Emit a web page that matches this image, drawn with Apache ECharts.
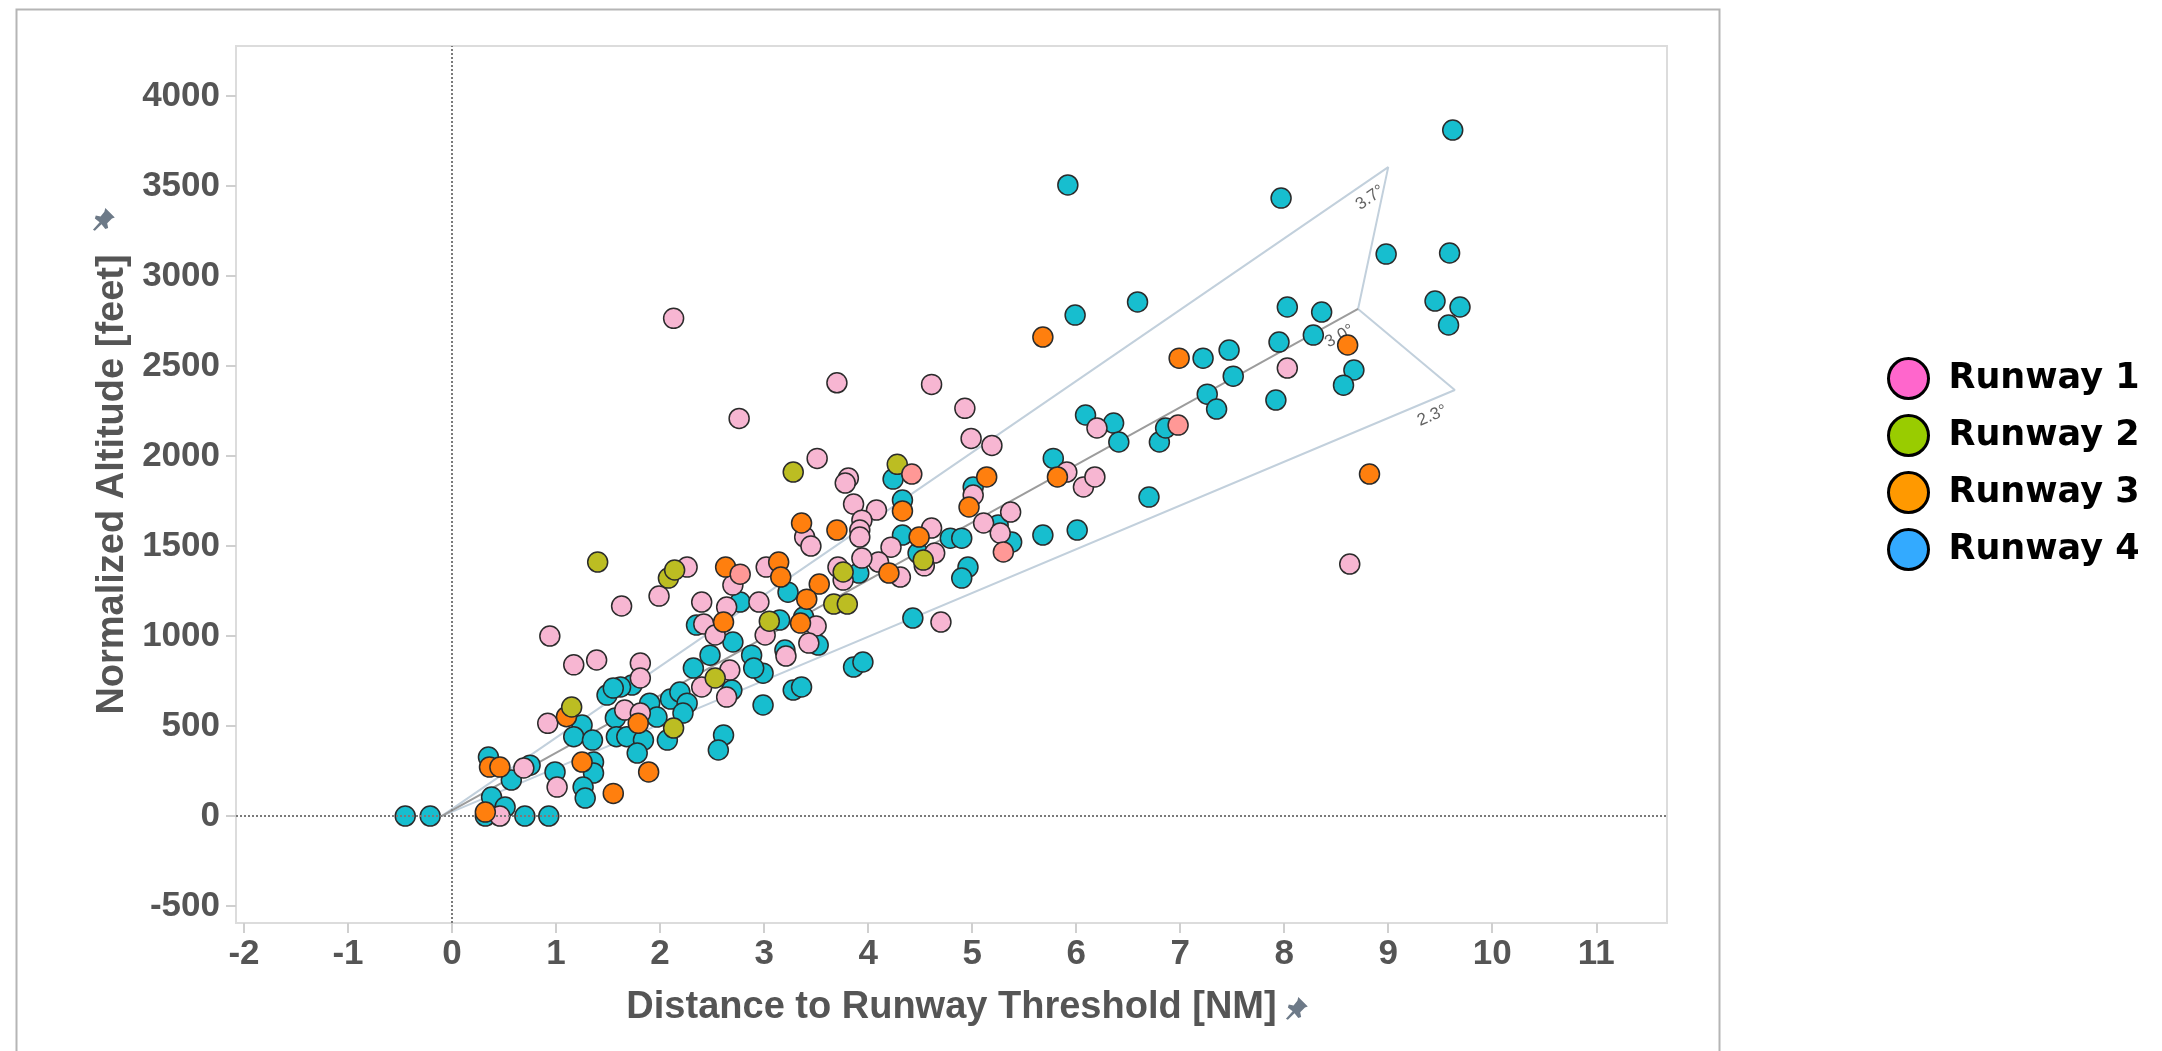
<!DOCTYPE html>
<html>
<head>
<meta charset="utf-8">
<title>Glide path scatter</title>
<script src="https://cdn.jsdelivr.net/npm/echarts@6/dist/echarts.min.js"></script>
<style>
  html, body { margin: 0; padding: 0; background: #fff; }
  #chart { width: 2162px; height: 1051px; }
</style>
</head>
<body>
<div id="chart"></div>
<script>
// tick labels
var xTicks = [-2, -1, 0, 1, 2, 3, 4, 5, 6, 7, 8, 9, 10, 11];
var yTicks = [-500, 0, 500, 1000, 1500, 2000, 2500, 3000, 3500, 4000];

// [distance NM, altitude ft]
var runway1 = [
  [2.13,2765],[3.70,2407],[4.61,2398],[2.76,2209],[4.93,2265],[4.99,2098],[5.19,2059],
  [3.51,1987],[3.81,1878],[3.78,1850],[5.01,1783],[3.86,1733],[4.08,1700],[3.39,1550],
  [3.45,1500],[3.94,1644],[3.92,1589],[3.92,1550],[4.22,1494],[4.61,1600],[4.64,1461],
  [4.54,1390],[4.10,1411],[4.31,1328],[3.94,1433],[3.76,1311],[3.71,1383],[5.11,1628],
  [4.70,1078],[5.91,1911],[6.07,1828],[6.18,1884],[5.37,1689],[5.27,1572],[6.20,2156],
  [1.63,1167],[1.99,1222],[2.26,1383],[2.70,1283],[3.02,1383],[2.40,1189],[2.64,1161],
  [2.95,1189],[2.42,1067],[2.53,1006],[3.01,1006],[3.50,1056],[3.43,961],[3.21,889],
  [2.67,811],[2.40,717],[2.64,661],[1.81,850],[1.81,767],[0.94,1000],[1.17,840],
  [1.39,867],[0.92,515],[1.66,589],[1.81,572],[0.69,267],[1.01,161],[0.46,0],
  [8.03,2489],[8.63,1400]
];
var runway2 = [
  [1.40,1411],[3.28,1911],[4.28,1954],[4.53,1422],[3.76,1356],[2.08,1322],[2.14,1367],
  [3.67,1178],[3.80,1178],[3.05,1083],[2.53,767],[1.15,606],[2.13,489]
];
var runway3 = [
  [5.68,2661],[5.14,1884],[4.97,1717],[4.33,1695],[3.36,1628],[3.70,1589],[4.49,1550],
  [4.20,1350],[2.63,1383],[3.14,1411],[3.16,1328],[3.53,1289],[3.41,1205],[2.61,1078],
  [3.35,1072],[5.82,1884],[6.99,2544],[8.61,2617],[8.82,1900],[1.10,552],[1.79,515],
  [1.89,245],[1.55,126],[0.36,272],[0.46,272],[1.25,300],[0.32,22]
];
var runway4 = [
  [4.24,1872],[5.01,1828],[4.33,1756],[4.33,1561],[4.79,1544],[4.90,1544],[4.48,1461],
  [3.91,1350],[5.25,1617],[5.38,1522],[5.68,1561],[6.01,1589],[4.96,1383],[4.90,1322],
  [4.43,1100],[3.86,828],[3.95,856],[3.28,700],[3.36,717],[5.99,2783],[6.09,2228],
  [5.78,1987],[3.23,1244],[2.77,1189],[2.35,1061],[3.15,1089],[3.38,1106],[3.52,950],
  [3.20,922],[2.70,967],[2.88,894],[2.99,794],[2.90,822],[2.48,894],[2.32,822],
  [2.69,700],[2.10,650],[2.19,689],[1.73,728],[1.62,717],[1.49,672],[1.55,711],
  [1.57,545],[1.90,627],[1.97,550],[1.58,441],[1.68,441],[1.84,422],[1.78,350],
  [2.07,422],[2.26,627],[2.22,572],[2.61,450],[2.56,367],[2.99,617],[1.25,506],
  [1.17,441],[1.35,422],[0.35,328],[0.57,200],[0.75,283],[0.99,245],[1.36,300],
  [1.36,239],[1.26,161],[1.28,100],[0.38,106],[0.51,50],[0.32,0],[0.70,0],[0.93,0],
  [-0.21,0],[-0.45,0],
  [5.92,3506],[9.62,3811],[7.97,3433],[8.98,3122],[9.59,3128],[6.59,2856],[8.03,2828],
  [8.36,2800],[8.28,2672],[7.95,2633],[9.45,2861],[9.69,2828],[9.58,2728],[7.22,2544],
  [7.47,2589],[7.51,2444],[8.67,2478],[8.57,2394],[7.26,2344],[7.35,2261],[7.92,2311],
  [6.36,2183],[6.41,2078],[6.80,2078],[6.86,2156],[6.70,1772]
];
// a few points drawn in a lighter red
var otherPts = [[4.42,1900],[2.77,1344],[5.30,1467],[6.98,2172]];

// glide slope guide: origin and the end of each slope line
var glideOrigin = [-0.1, 0];
var glideEnds = [
  { name: '3.7°', end: [9.00, 3605] },
  { name: '3.0°', end: [8.71, 2817] },
  { name: '2.3°', end: [9.64, 2367] }
];

var legendNames = ['Runway 1', 'Runway 2', 'Runway 3', 'Runway 4'];
var legendColors = ['#ff66cc', '#99cc00', '#ff9900', '#33aaff'];

var axisFont = 'Liberation Sans, Arial, sans-serif';
var myChart = echarts.init(document.getElementById('chart'));

var outline = [glideOrigin, glideEnds[0].end, glideEnds[1].end, glideEnds[2].end, glideOrigin];

// little push-pin next to the axis titles
var pinPts = [[14,0],[24,10],[21,11],[16,16],[17,21],[14,22],[10,17],[3,24],[1,23],[8,15],[3,11],[4,8],[9,9],[13,4]];

function dots(name, data, color, z){
  return {
    name: name, type: 'scatter', data: data, symbolSize: 20, z: z,
    itemStyle: { color: color, borderColor: '#2b2b2b', borderWidth: 1.5, opacity: 1 }
  };
}

var option = {
  animation: false,
  backgroundColor: '#fff',
  grid: { left: 236, top: 46, width: 1431, height: 877, show: true, borderColor: '#dcdcdc', borderWidth: 2 },
  xAxis: {
    type: 'value', min: -2.077, max: 11.68,
    name: 'Distance to Runway Threshold [NM]', nameLocation: 'middle', nameGap: 66,
    nameTextStyle: { fontSize: 38, fontWeight: 'bold', color: '#555', fontFamily: axisFont },
    axisLine: { show: false, onZero: false },
    axisTick: { show: true, customValues: xTicks, length: 10, lineStyle: { color: '#cfcfcf', width: 2 } },
    axisLabel: { customValues: xTicks, fontSize: 35, fontWeight: 'bold', color: '#555', fontFamily: axisFont, margin: 14 },
    splitLine: { show: false }
  },
  yAxis: {
    type: 'value', min: -594, max: 4278,
    name: 'Normalized Altitude [feet]', nameLocation: 'middle', nameGap: 99, nameRotate: 90,
    nameTextStyle: { fontSize: 38, fontWeight: 'bold', color: '#555', fontFamily: axisFont },
    axisLine: { show: false, onZero: false },
    axisTick: { show: true, customValues: yTicks, length: 10, lineStyle: { color: '#cfcfcf', width: 2 } },
    axisLabel: {
      customValues: yTicks, fontSize: 35, fontWeight: 'bold', color: '#555', fontFamily: axisFont, margin: 16,
      formatter: function(v){ return String(v); }
    },
    splitLine: { show: false }
  },
  legend: {
    data: legendNames.map(function(n, i){
      return { name: n, icon: 'circle', itemStyle: { color: legendColors[i], borderColor: '#000', borderWidth: 3 } };
    }),
    orient: 'vertical', left: 1882, top: 352,
    itemWidth: 40, itemHeight: 40, itemGap: 14,
    selectedMode: false,
    textStyle: { fontSize: 35, fontWeight: 'bold', color: '#000', fontFamily: 'DejaVu Sans, sans-serif', padding: [0, 0, 0, 15], lineHeight: 40 }
  },
  graphic: [
    { type: 'rect', left: 14, top: 7, shape: { width: 1703, height: 1100 }, style: { fill: 'none', stroke: '#b5b5b5', lineWidth: 2 }, silent: true },
    { type: 'polygon', x: 92, y: 208, shape: { points: pinPts }, scaleX: 0.95, scaleY: 0.95, style: { fill: '#6d7a88' }, silent: true },
    { type: 'polygon', x: 1285, y: 997, shape: { points: pinPts }, scaleX: 0.95, scaleY: 0.95, style: { fill: '#6d7a88' }, silent: true }
  ],
  series: [
    {
      name: 'outline', type: 'line', data: outline, symbol: 'none', z: 1, silent: true,
      lineStyle: { color: '#c2d0dc', width: 2 },
      markLine: {
        silent: true, symbol: 'none', label: { show: false },
        lineStyle: { type: 'dotted', color: '#7a7a7a', width: 2 },
        data: [{ xAxis: 0 }, { yAxis: 0 }]
      }
    },
    {
      name: 'centre', type: 'line', data: [glideOrigin, glideEnds[1].end], symbol: 'none', z: 1, silent: true,
      lineStyle: { color: '#9c9c9c', width: 2 }
    },
    {
      id: 'angles', name: 'angles', type: 'scatter', data: [], symbolSize: 1, z: 2, silent: true,
      itemStyle: { color: 'rgba(0,0,0,0)' },
      label: { show: true, position: 'inside', formatter: '{b}', fontSize: 17, color: '#3a3a3a', fontFamily: axisFont }
    },
    dots('Runway 4', runway4, '#17becf', 3),
    dots('Runway 1', runway1, '#f7b6d2', 4),
    dots('Runway 3', runway3, '#ff7f0e', 5),
    dots('Runway 2', runway2, '#bcbd22', 6),
    dots('other', otherPts, '#ff9896', 6)
  ]
};

myChart.setOption(option);

// angle labels, set along each slope line just short of its end
var o = myChart.convertToPixel({ gridIndex: 0 }, glideOrigin);
var labelData = glideEnds.map(function(g){
  var e = myChart.convertToPixel({ gridIndex: 0 }, g.end);
  var ang = Math.atan2(o[1] - e[1], e[0] - o[0]) * 180 / Math.PI;
  var f = 0.972;
  var px = o[0] + (e[0] - o[0]) * f;
  var py = o[1] + (e[1] - o[1]) * f;
  var rad = ang * Math.PI / 180;
  px += Math.sin(rad) * 15;
  py += Math.cos(rad) * 15;
  return { value: myChart.convertFromPixel({ gridIndex: 0 }, [px, py]), name: g.name, label: { rotate: ang } };
});
myChart.setOption({ series: [{ id: 'angles', data: labelData }] });
</script>
</body>
</html>
